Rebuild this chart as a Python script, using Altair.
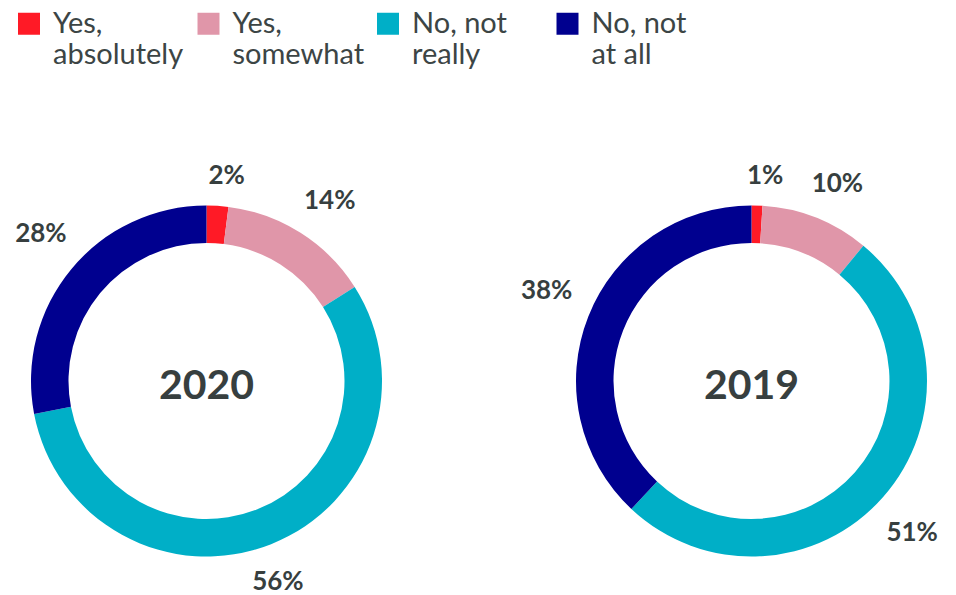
import altair as alt
import pandas as pd

categories = ["Yes, absolutely", "Yes, somewhat", "No, not really", "No, not at all"]
legend_lines = [["Yes,", "absolutely"], ["Yes,", "somewhat"], ["No, not", "really"], ["No, not", "at all"]]
colors = ["#ff1a26", "#e096a9", "#00afc7", "#00008f"]
years = ["2020", "2019"]
values_2020 = [2, 14, 56, 28]
values_2019 = [1, 10, 51, 38]

FONT = "Lato"
TEXT = "#373f3f"
LEGEND_TEXT = "#3c4545"


def make_df(year, vals):
    return pd.DataFrame({
        "year": year,
        "category": categories,
        "value": vals,
        "order": list(range(len(categories))),
        "label": [f"{v}%" for v in vals],
    })


label_expr = " : ".join(
    f"datum.label == '{c}' ? {lines}" for c, lines in zip(categories, legend_lines)
) + " : datum.label"

color = alt.Color(
    "category:N",
    scale=alt.Scale(domain=categories, range=colors),
    legend=alt.Legend(
        orient="none", legendX=6.5, legendY=1, direction="horizontal", title=None,
        symbolType="square", symbolSize=484, symbolStrokeWidth=0,
        labelFont=FONT, labelFontSize=29, labelColor=LEGEND_TEXT, labelOffset=9.5,
        labelLimit=300, columnPadding=8.5, gridAlign="all",
        labelExpr=label_expr, labelBaseline="middle",
    ),
)


def donut(year, vals, cx, cy):
    data = make_df(year, vals)
    arc = alt.Chart(data).mark_arc(radius=175.5, radius2=138, strokeWidth=0).encode(
        theta=alt.Theta("value:Q", stack=True),
        order=alt.Order("order:Q"),
        color=color, x=alt.value(cx), y=alt.value(cy),
    )
    labels = alt.Chart(data).transform_window(
        cum="sum(value)", sort=[alt.SortField("order")], frame=[None, 0]
    ).transform_joinaggregate(
        total="sum(value)"
    ).transform_calculate(
        mid="2*PI*(datum.cum - datum.value/2)/datum.total + 0.035",
        rad="195 + 9*length(datum.label)*abs(sin(datum.mid)) + 9.5*abs(cos(datum.mid))",
    ).mark_text(
        font=FONT, fontSize=26, fontWeight="bold", color=TEXT,
        align="center", baseline="middle",
    ).encode(
        theta=alt.Theta("mid:Q", scale=None),
        radius=alt.Radius("rad:Q", scale=None),
        text="label:N", x=alt.value(cx), y=alt.value(cy),
    )
    center = alt.Chart(pd.DataFrame({"year": [year]})).mark_text(
        font=FONT, fontSize=41, fontWeight="bold", color=TEXT,
        align="center", baseline="middle",
    ).encode(text="year:N", x=alt.value(cx), y=alt.value(cy + 6))
    return [arc, labels, center]


layers = donut(years[0], values_2020, 198.5, 373) + donut(years[1], values_2019, 743.5, 373)

chart = alt.layer(*layers).properties(
    width=940, height=586, padding=0, autosize="none"
).configure_view(stroke=None)

chart.save("out.html", embed_options={"renderer": "svg", "actions": False})
